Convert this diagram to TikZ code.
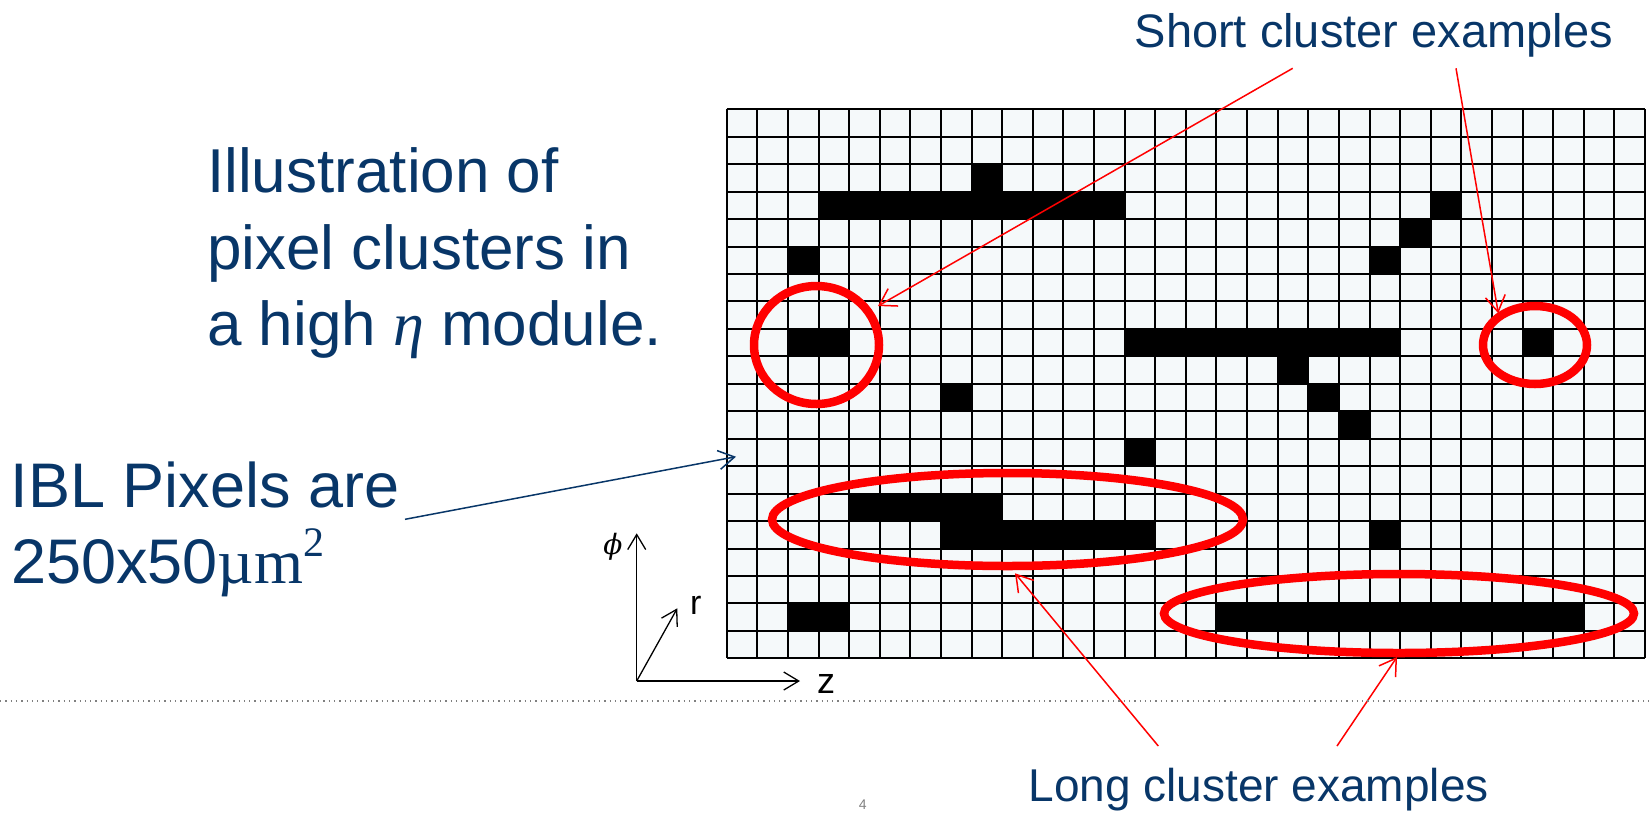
\documentclass[tikz,border=0pt]{standalone}
\usepackage{fontspec}
\setmainfont{Liberation Sans}
\newfontfamily\lserif{Liberation Serif}
\newfontfamily\dvserif{DejaVu Serif}
\usetikzlibrary{arrows.meta,shapes.geometric}
\definecolor{navy}{RGB}{8,54,104}
\definecolor{cellbg}{RGB}{245,249,250}
\definecolor{pred}{RGB}{255,0,0}
\tikzset{
  bigtxt/.style={text=navy, inner sep=0pt, anchor=base west, font=\fontsize{62}{76}\selectfont},
  midtxt/.style={text=navy, inner sep=0pt, anchor=base west, font=\fontsize{47}{56}\selectfont},
  ring/.style={ellipse, draw=pred, line width=8.5pt, inner sep=0pt},
  redarrow/.style={draw=pred, line width=1.5pt, -{Straight Barb[length=16pt,width=20pt]}},
  navyarrow/.style={draw=navy, line width=1.5pt, -{Straight Barb[length=16pt,width=19pt]}},
  axisarrow/.style={draw=black, line width=1.3pt, -{Straight Barb[length=15pt,width=18pt]}},
  gridline/.style={draw=black, line width=2pt},
}
\begin{document}
\begin{tikzpicture}[x=1pt,y=-1pt]
\useasboundingbox (0,0) rectangle (1649,812);
\def\gx{726.7}
\def\gy{109.3}
\def\cw{30.61}
\def\ch{27.45}
% pixel grid
\fill[cellbg] (\gx,\gy) rectangle ({\gx+30*\cw},{\gy+20*\ch});
\foreach \r/\c/\n in {2/8/1, 3/3/10, 3/23/1, 4/22/1, 5/2/1, 5/21/1, 8/2/2, 8/13/9, 8/26/1,
  9/18/1, 10/7/1, 10/19/1, 11/20/1, 12/13/1, 14/4/5, 15/7/7, 15/21/1, 18/2/2, 18/16/12}
  \fill[black] ({\gx+\c*\cw},{\gy+\r*\ch}) rectangle ++({\n*\cw},\ch);
\foreach \i in {0,...,30}
  \draw[gridline] ({\gx+\i*\cw},\gy) -- ++(0,{20*\ch});
\foreach \j in {0,...,20}
  \draw[gridline] (\gx,{\gy+\j*\ch}) -- ++({30*\cw},0);
% red rings
\node[ring, minimum width=125pt, minimum height=118pt] (c1) at (816.5,345) {};
\node[ring, minimum width=104pt, minimum height=78pt] (c2) at (1535,345) {};
\node[ring, minimum width=471pt, minimum height=93pt] (c3) at (1007.5,519.5) {};
\node[ring, minimum width=470pt, minimum height=79pt] (c4) at (1399,613.5) {};
% texts
\node[bigtxt] (t1) at (207,192.7) {Illustration of};
\node[bigtxt] (t2) at (207,269.3) {pixel clusters in};
\node[bigtxt] (t3) at (207,345) {a high {\lserif\itshape η} module.};
\node[bigtxt, font=\fontsize{63}{76}\selectfont] (p1) at (10.5,507.3) {IBL Pixels are};
\node[bigtxt, font=\fontsize{63}{76}\selectfont] (p2) at (11,583.3) {250x50{\lserif µm}\raisebox{0.42em}{\lserif\fontsize{42}{42}\selectfont 2}};
\node[midtxt] (short) at (1134.5,47.7) {Short cluster examples};
\node[midtxt, font=\fontsize{46}{56}\selectfont] (long) at (1028.3,801.7) {Long cluster examples};
% arrows
\coordinate (s1) at (1292.7,68.3);
\coordinate (e1) at (878,306);
\coordinate (s2) at (1456,68.3);
\coordinate (e2) at (1498.3,313.3);
\coordinate (s3) at (1158.3,746);
\coordinate (e3) at (1015,573.3);
\coordinate (s4) at (1337,746);
\coordinate (e4) at (1397,657);
\coordinate (s5) at (405,519.3);
\coordinate (e5) at (736,456.7);
\draw[redarrow] (s1) -- (e1);
\draw[redarrow] (s2) -- (e2);
\draw[redarrow] (s3) -- (e3);
\draw[redarrow] (s4) -- (e4);
\draw[navyarrow] (s5) -- (e5);
% axes
\coordinate (o) at (636.7,681);
\coordinate (phiend) at (636.7,533.3);
\coordinate (zend) at (800,681);
\coordinate (rend) at (677.3,608.3);
\draw[axisarrow] (o) -- (phiend);
\draw[axisarrow] (o) -- (zend);
\draw[axisarrow] (o) -- (rend);
\node[inner sep=0pt, font=\dvserif\itshape\fontsize{28}{28}\selectfont] (phi) at (613,547) {ϕ};
\node[inner sep=0pt, anchor=base west, font=\fontsize{34}{34}\selectfont] (rl) at (690,614) {r};
\node[inner sep=0pt, anchor=base west, font=\fontsize{36}{36}\selectfont] (zl) at (817,693.3) {z};
% footer
\draw[gray, line width=1.3pt, dash pattern=on 1.3pt off 4pt] (0,701) -- (1649,701);
\node[text=gray, inner sep=0pt, font=\fontsize{14}{14}\selectfont] (pg) at (862.7,805) {4};
\end{tikzpicture}
\end{document}
